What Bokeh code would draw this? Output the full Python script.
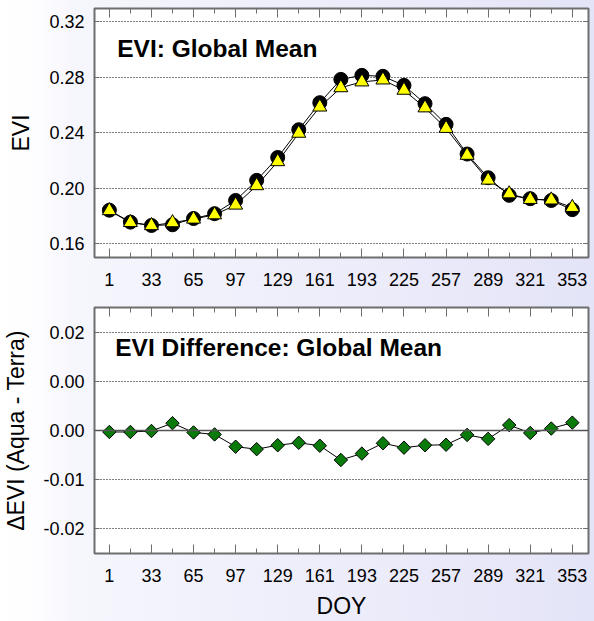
from bokeh.plotting import figure
from bokeh.layouts import column
from bokeh.models import (LinearAxis, FixedTicker, Label, Span, Range1d,
                          CustomLabelingPolicy)
from bokeh.embed import file_html
from bokeh.resources import INLINE
import math

# ---------------- data ----------------
doy = [1, 17, 33, 49, 65, 81, 97, 113, 129, 145, 161, 177, 193, 209, 225,
       241, 257, 273, 289, 305, 321, 337, 353]
evi_terra = [0.1840, 0.1754, 0.1730, 0.1735, 0.1780, 0.1815, 0.1910, 0.2055,
             0.2220, 0.2420, 0.2615, 0.2783, 0.2812, 0.2805, 0.2740, 0.2608,
             0.2459, 0.2245, 0.2074, 0.1947, 0.1923, 0.1910, 0.1844]
evi_aqua = [0.1837, 0.1751, 0.1729, 0.1750, 0.1776, 0.1807, 0.1877, 0.2017,
            0.2190, 0.2395, 0.2584, 0.2723, 0.2765, 0.2779, 0.2705, 0.2578,
            0.2430, 0.2236, 0.2057, 0.1958, 0.1918, 0.1914, 0.1860]
evi_diff = [-0.0003, -0.0003, -0.0001, 0.0015, -0.0004, -0.0008, -0.0033,
            -0.0038, -0.0030, -0.0025, -0.0031, -0.0060, -0.0047, -0.0026,
            -0.0035, -0.0030, -0.0029, -0.0009, -0.0017, 0.0011, -0.0005,
            0.0004, 0.0016]
x_major = [1, 33, 65, 97, 129, 161, 193, 225, 257, 289, 321, 353]
x_minor = [17, 49, 81, 113, 145, 177, 209, 241, 273, 305, 337]
evi_ticks = [0.16, 0.20, 0.24, 0.28, 0.32]
evi_tick_labels = ["0.16", "0.20", "0.24", "0.28", "0.32"]
diff_ticks = [-0.02, -0.01, 0.0, 0.01, 0.02]
diff_tick_labels = ["-0.02", "-0.01", "0.00", "0.00", "0.02"]

FONT = "Liberation Sans"
FRAME = "#6e6e6e"
W = 594

HIDE_CODE = """
for (let i = 0; i < indices.size; i++) {
  if (typeof indices.unset === 'function') { indices.unset(i) } else { indices.set(i, false) }
}
return indices
"""


def style_panel(p, yticks, ylabels, ylabel, xlabel, ylab_standoff, x_standoff,
                xlab_standoff=8):
    p.background_fill_color = "white"
    p.border_fill_color = None
    p.outline_line_color = FRAME
    p.outline_line_width = 2
    p.xgrid.visible = False
    p.ygrid.ticker = FixedTicker(ticks=yticks)
    p.ygrid.grid_line_color = "black"
    p.ygrid.grid_line_dash = "1 2"
    p.ygrid.grid_line_width = 1

    xa = p.xaxis[0]
    xa.ticker = FixedTicker(ticks=x_major, minor_ticks=x_minor)
    xa.axis_line_color = None
    xa.major_tick_in = 9
    xa.major_tick_out = 0
    xa.minor_tick_in = 5
    xa.minor_tick_out = 0
    xa.major_tick_line_color = FRAME
    xa.minor_tick_line_color = FRAME
    xa.major_label_text_font = FONT
    xa.major_label_text_font_size = "18px"
    xa.major_label_text_color = "black"
    xa.major_label_standoff = x_standoff
    if xlabel:
        xa.axis_label = xlabel
        xa.axis_label_text_font = FONT
        xa.axis_label_text_font_size = "23px"
        xa.axis_label_text_font_style = "normal"
        xa.axis_label_text_color = "black"
        xa.axis_label_standoff = xlab_standoff

    ya = p.yaxis[0]
    ya.ticker = FixedTicker(ticks=yticks)
    ya.major_label_overrides = {t: l for t, l in zip(yticks, ylabels)}
    ya.axis_line_color = None
    ya.major_tick_in = 5
    ya.major_tick_out = 0
    ya.minor_tick_line_color = None
    ya.major_tick_line_color = FRAME
    ya.major_label_text_font = FONT
    ya.major_label_text_font_size = "18px"
    ya.major_label_text_color = "black"
    ya.major_label_standoff = 10
    ya.axis_label = ylabel
    ya.axis_label_text_font = FONT
    ya.axis_label_text_font_size = "23px"
    ya.axis_label_text_font_style = "normal"
    ya.axis_label_text_color = "black"
    ya.axis_label_standoff = ylab_standoff

    top = LinearAxis(ticker=FixedTicker(ticks=x_major, minor_ticks=x_minor),
                     axis_line_color=None, major_tick_in=9, major_tick_out=0,
                     minor_tick_in=5, minor_tick_out=0,
                     major_tick_line_color=FRAME, minor_tick_line_color=FRAME,
                     major_label_text_font_size="1px", major_label_standoff=0,
                     major_label_policy=CustomLabelingPolicy(code=HIDE_CODE))
    p.add_layout(top, "above")
    right = LinearAxis(ticker=FixedTicker(ticks=yticks), axis_line_color=None,
                       major_tick_in=5, major_tick_out=0,
                       minor_tick_line_color=None, major_tick_line_color=FRAME,
                       major_label_text_font_size="1px", major_label_standoff=0,
                       major_label_policy=CustomLabelingPolicy(code=HIDE_CODE))
    p.add_layout(right, "right")


# ---------------- top panel ----------------
p1 = figure(width=W, height=295, output_backend="svg", toolbar_location=None,
            x_range=Range1d(-10.3, 365.3), y_range=Range1d(0.1499, 0.3294),
            min_border_left=94, min_border_right=2, min_border_top=8,
            min_border_bottom=38)
style_panel(p1, evi_ticks, evi_tick_labels, "EVI", None, 12, 15)

p1.line(doy, evi_terra, line_color="black", line_width=1)
p1.line(doy, evi_aqua, line_color="black", line_width=1)
p1.scatter(doy, evi_terra, marker="circle", size=14, fill_color="black",
           line_color="black")
p1.scatter(doy, evi_aqua, marker="triangle", size=14, fill_color="#ffff00",
           line_color="black", line_width=1)
p1.add_layout(Label(x=7, y=0.3005, text="EVI: Global Mean", text_font=FONT,
                    text_font_style="bold", text_font_size="24.5px",
                    text_baseline="alphabetic", text_color="black"))

# ---------------- bottom panel ----------------
p2 = figure(width=W, height=326, output_backend="svg", toolbar_location=None,
            x_range=Range1d(-10.3, 365.3), y_range=Range1d(-0.02505, 0.02505),
            min_border_left=94, min_border_right=2, min_border_top=12,
            min_border_bottom=66)
style_panel(p2, diff_ticks, diff_tick_labels, "\u0394EVI (Aqua - Terra)", "DOY",
            11, 15, 8)
p2.add_layout(Span(location=0, dimension="width", line_color="#555555",
                   line_width=1.5))
p2.line(doy, evi_diff, line_color="black", line_width=1)
p2.scatter(doy, evi_diff, marker="square", angle=math.pi / 4, size=9.5,
           fill_color="#0a7a0a", line_color="black", line_width=1)
p2.add_layout(Label(x=5.5, y=0.0170, text="EVI Difference: Global Mean",
                    text_font=FONT, text_font_style="bold",
                    text_font_size="24.5px", text_baseline="alphabetic",
                    text_color="black"))

layout = column(p1, p2, spacing=0,
                styles={"background": "linear-gradient(90deg, #ffffff 0%, #fdfdff 7%, "
                                      "#f6f6fd 12%, #e4e4f8 100%)"})

open("out.html", "w").write(file_html(layout, INLINE))
